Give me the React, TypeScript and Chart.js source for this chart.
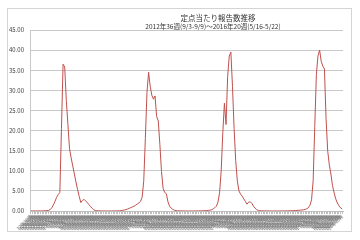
import React, { useEffect, useRef } from "react";
import { Chart, registerables } from "chart.js";

Chart.register(...registerables);

const titleLine1 = "定点当たり報告数推移";
const titleLine2 = "2012年36週(9/3-9/9)～2016年20週(5/16-5/22)";

// [year, first week, last week]
const weekSpans: [number, number, number][] = [
  [2012, 36, 52],
  [2013, 1, 52],
  [2014, 1, 52],
  [2015, 1, 53],
  [2016, 1, 20],
];
const weekLabels: string[] = weekSpans.flatMap(([y, a, b]) =>
  Array.from({ length: b - a + 1 }, (_, k) => `${String(y).slice(2)}年${a + k}週`)
);

const preSeason = [0.02, 0.01, 0.02, 0.01, 0.02, 0.03, 0.02, 0.03, 0.05, 0.06, 0.1, 0.15];
const season2012 = [0.35, 0.8, 1.5, 2.4, 3.4, 4.1, 4.6, 20.5, 36.5, 35.8, 27.5, 21.5, 15.5, 13.2, 11.2, 9.2, 7.2, 5.3, 3.6, 2.1, 2.6, 2.9, 2.5, 2.1, 1.6, 1.1, 0.7, 0.3, 0.12, 0.06];
const gap2013 = [0.04, 0.03, 0.02, 0.02, 0.01, 0.01, 0.01, 0.02, 0.01, 0.02, 0.02, 0.03, 0.04, 0.06, 0.1, 0.18];
const season2013 = [0.25, 0.35, 0.5, 0.65, 0.85, 1.0, 1.2, 1.45, 1.75, 2.0, 2.4, 3.4, 7.5, 18, 29.5, 34.5, 31.0, 28.8, 27.8, 28.6, 23.5, 22.4, 16.5, 9.8, 5.6, 4.6, 4.3, 2.3, 1.2, 0.7, 0.4, 0.2, 0.1];
const gap2014 = [0.05, 0.04, 0.03, 0.02, 0.02, 0.01, 0.01, 0.01, 0.01, 0.01, 0.01, 0.02, 0.02, 0.03, 0.04, 0.05, 0.06, 0.08, 0.1, 0.15, 0.2];
const season2014 = [0.3, 0.5, 0.8, 1.2, 2.2, 4.5, 10, 19.5, 26.8, 21.5, 33.5, 38.5, 39.5, 31, 20.5, 12.5, 7.5, 5, 4.2, 3.7, 3.0, 2.4, 1.7, 2.2, 2.3, 1.9, 1.2, 0.7, 0.35, 0.15];
const gap2015 = [0.08, 0.05, 0.04, 0.03, 0.02, 0.02, 0.01, 0.01, 0.01, 0.01, 0.01, 0.01, 0.02, 0.02, 0.02, 0.03, 0.03, 0.04, 0.05, 0.06, 0.08, 0.1, 0.12, 0.15, 0.18, 0.2, 0.25, 0.3];
const season2015 = [0.4, 0.55, 0.8, 1.4, 2.8, 7.5, 21, 34, 38.6, 40.0, 37.2, 36.0, 35.3, 23, 15, 11.5, 9.2, 6.3, 4.5, 3.0, 2.0, 1.3, 0.8, 0.5];

const reportValues = [
  ...preSeason, ...season2012, ...gap2013, ...season2013,
  ...gap2014, ...season2014, ...gap2015, ...season2015,
];

const yMin = 0;
const yMax = 45;
const yStep = 5;

const framePlugin = {
  id: "frameAndTitle",
  beforeDraw(chart: any) {
    const ctx = chart.ctx;
    ctx.save();
    ctx.fillStyle = "#ffffff";
    ctx.fillRect(0, 0, chart.width, chart.height);
    ctx.strokeStyle = "#d4d4d4";
    ctx.lineWidth = 1;
    ctx.strokeRect(7.5, 8.5, 344, 223);
    ctx.restore();
  },
  afterDraw(chart: any) {
    const ctx = chart.ctx;
    ctx.save();
    ctx.fillStyle = "#333333";
    ctx.textAlign = "center";
    ctx.textBaseline = "middle";
    ctx.font = '7.5px "Noto Sans CJK JP"';
    ctx.fillText(titleLine1, 218, 18.5);
    ctx.font = '6.5px "Noto Sans CJK JP"';
    ctx.fillText(titleLine2, 213, 26.5);
    ctx.restore();
  },
};

export default function App() {
  const ref = useRef<HTMLCanvasElement | null>(null);
  useEffect(() => {
    if (!ref.current) return;
    const chart = new Chart(ref.current, {
      type: "line",
      data: {
        labels: weekLabels,
        datasets: [
          {
            data: reportValues,
            borderColor: "#c0504d",
            borderWidth: 1,
            pointRadius: 0,
            tension: 0,
            fill: false,
          },
        ],
      },
      options: {
        animation: false,
        responsive: false,
        devicePixelRatio: 1,
        layout: { padding: { top: 30, right: 17, left: 0, bottom: 0 } },
        plugins: { legend: { display: false }, title: { display: false }, tooltip: { enabled: false } },
        scales: {
          x: {
            type: "category",
            offset: true,
            afterFit: (s: any) => { s.height = 29; },
            ticks: {
              autoSkip: false,
              maxRotation: 45,
              minRotation: 45,
              padding: 0,
              color: "#707070",
              font: { size: 4.5, family: '"Noto Sans CJK JP"' },
            },
            grid: { drawOnChartArea: false, drawTicks: true, tickLength: 3, color: "#bdbdbd" },
            border: { color: "#bdbdbd" },
          },
          y: {
            min: yMin,
            max: yMax,
            afterFit: (s: any) => { s.width = 30; },
            ticks: {
              stepSize: yStep,
              padding: 6,
              color: "#404040",
              font: { size: 6, family: '"Noto Sans CJK JP"' },
              callback: (v: any) => Number(v).toFixed(2),
            },
            grid: { drawTicks: false, color: "#c8c8c8" },
            border: { color: "#c8c8c8" },
          },
        },
      },
      plugins: [framePlugin],
    } as any);
    return () => chart.destroy();
  }, []);
  return (
    <div style={{ position: "absolute", left: 0, top: 0, width: 360, height: 240 }}>
      <canvas ref={ref} width={360} height={240} style={{ display: "block" }} />
    </div>
  );
}
